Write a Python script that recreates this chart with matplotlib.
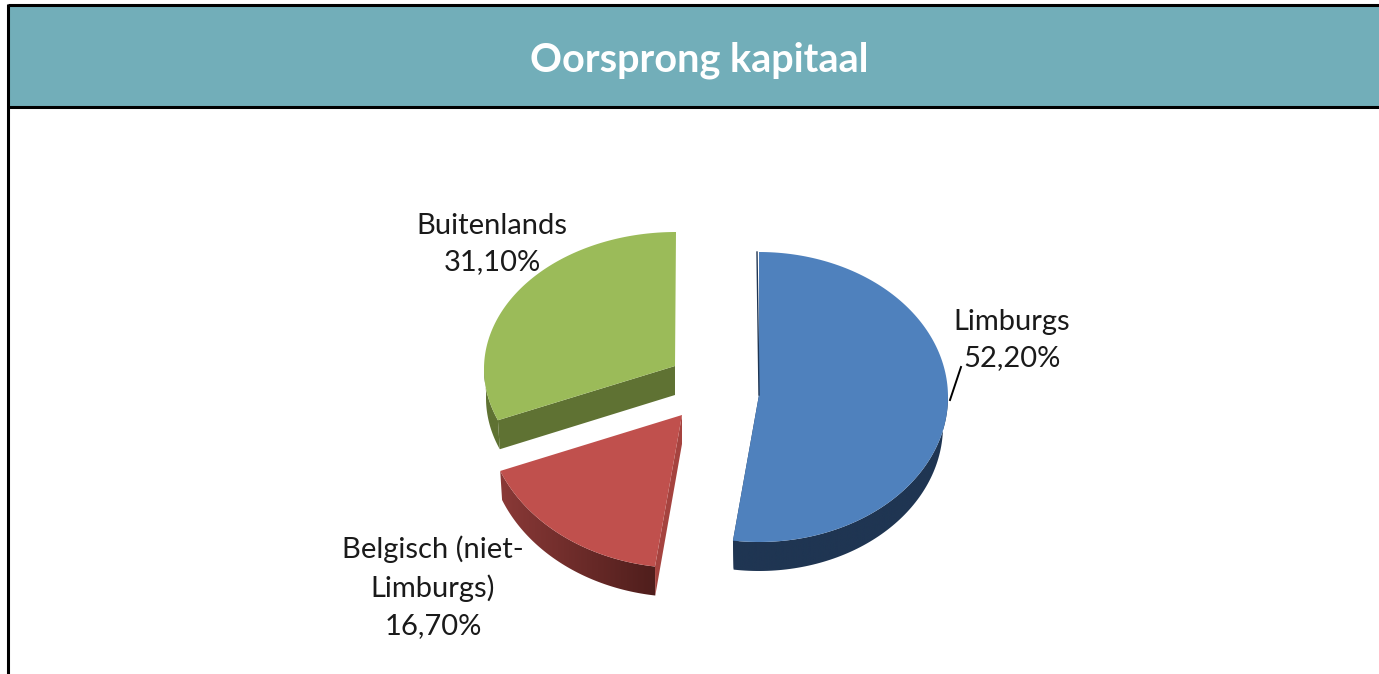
import numpy as np
import matplotlib
matplotlib.use('Agg')
import matplotlib.pyplot as plt
from matplotlib.colors import LinearSegmentedColormap
from matplotlib.patches import Polygon, Rectangle

plt.rcParams['font.family'] = ['Lato', 'DejaVu Sans']

# Data
title = 'Oorsprong kapitaal'
names = ['Limburgs', 'Belgisch (niet-\nLimburgs)', 'Buitenlands']
shares = [52.2, 16.7, 31.1]
share_labels = ['52,20%', '16,70%', '31,10%']

# Look of the pie, in pixels of the picture
colors = ['#4F81BD', '#C0504D', '#9BBB59']
wall_left = ['#1F3552', '#8A3937', '#5F7233']
wall_right = ['#1F3552', '#4F1E1C', '#5F7233']
cut_colors = ['#1F3552', '#A5433F', '#5F7233']
ellipse_xy = [(759, 397), (682, 413), (676, 369)]
ellipse_ab = [(189, 145), (196, 155), (192, 137)]
apex_xy = [(759, 395), (682, 415), (675, 366)]
wall_inset = [5, 2, 2]
cut_edge = [-1, 0, 0]
depth = 29
label_xy = [(1012, 340), (433, 587), (492, 244)]


def rim(cx, cy, a, b, start, stop, n=160):
    t = np.radians(np.linspace(start, stop, n))
    return np.column_stack([cx + a * np.cos(t), cy - b * np.sin(t)])


fig = plt.figure(figsize=(13.79, 6.74), dpi=100)
ax = fig.add_axes([0, 0, 1, 1])
ax.axis('off')

# Header band and frame
ax.add_patch(Rectangle((8, 5), 1371, 102, facecolor='#72AEB9', edgecolor='none'))
ax.plot([8, 1379], [5, 5], color='black', lw=2.2, solid_capstyle='butt')
ax.plot([8, 1379], [107, 107], color='black', lw=2.2, solid_capstyle='butt')
ax.plot([8, 8], [4, 674], color='black', lw=2.2, solid_capstyle='butt')
ax.text(699, 60, title, color='white', fontsize=28.5, fontweight='bold', ha='center', va='center')

# Slices, clockwise from twelve o'clock
angle = 90.0
for i in range(len(shares)):
    start = angle
    stop = angle - shares[i] * 3.6
    angle = stop
    cx, cy = ellipse_xy[i]
    a, b = ellipse_ab[i]
    px, py = apex_xy[i]
    top = rim(cx, cy, a, b, start, stop)
    bottom = rim(cx, cy + depth, a - wall_inset[i], b, start, stop)

    # cut face of the slice
    k = cut_edge[i]
    face = [(px, py), tuple(top[k]), tuple(bottom[k]), (px, py + depth)]
    ax.add_patch(Polygon(face, facecolor=cut_colors[i], edgecolor='none'))

    # outer wall, shaded from left to right
    mask = top[:, 1] >= cy - 5
    wall = np.vstack([top[mask], bottom[mask][::-1]])
    wall_patch = Polygon(wall, facecolor='none', edgecolor='none')
    ax.add_patch(wall_patch)
    shade = LinearSegmentedColormap.from_list('wall', [wall_left[i], wall_right[i]])
    img = ax.imshow(np.linspace(0, 1, 256).reshape(1, -1), cmap=shade, aspect='auto',
                    extent=(wall[:, 0].min(), wall[:, 0].max(), wall[:, 1].max(), wall[:, 1].min()))
    img.set_clip_path(wall_patch)

    ax.add_patch(Polygon(np.vstack([[px, py], top]), facecolor=colors[i], edgecolor='none'))

    ax.text(label_xy[i][0], label_xy[i][1], names[i] + '\n' + share_labels[i], color='#1A1A1A',
            fontsize=21, ha='center', va='center', linespacing=1.52)

# Dark edge on the blue slice and leader line for Limburgs
ax.plot([757, 759], [252, 395], color='#1F3552', lw=1.0)
ax.plot([950, 961], [400, 367], color='black', lw=1.4)

ax.set_xlim(0, 1379)
ax.set_ylim(674, 0)
fig.savefig('out.png', dpi=100)
